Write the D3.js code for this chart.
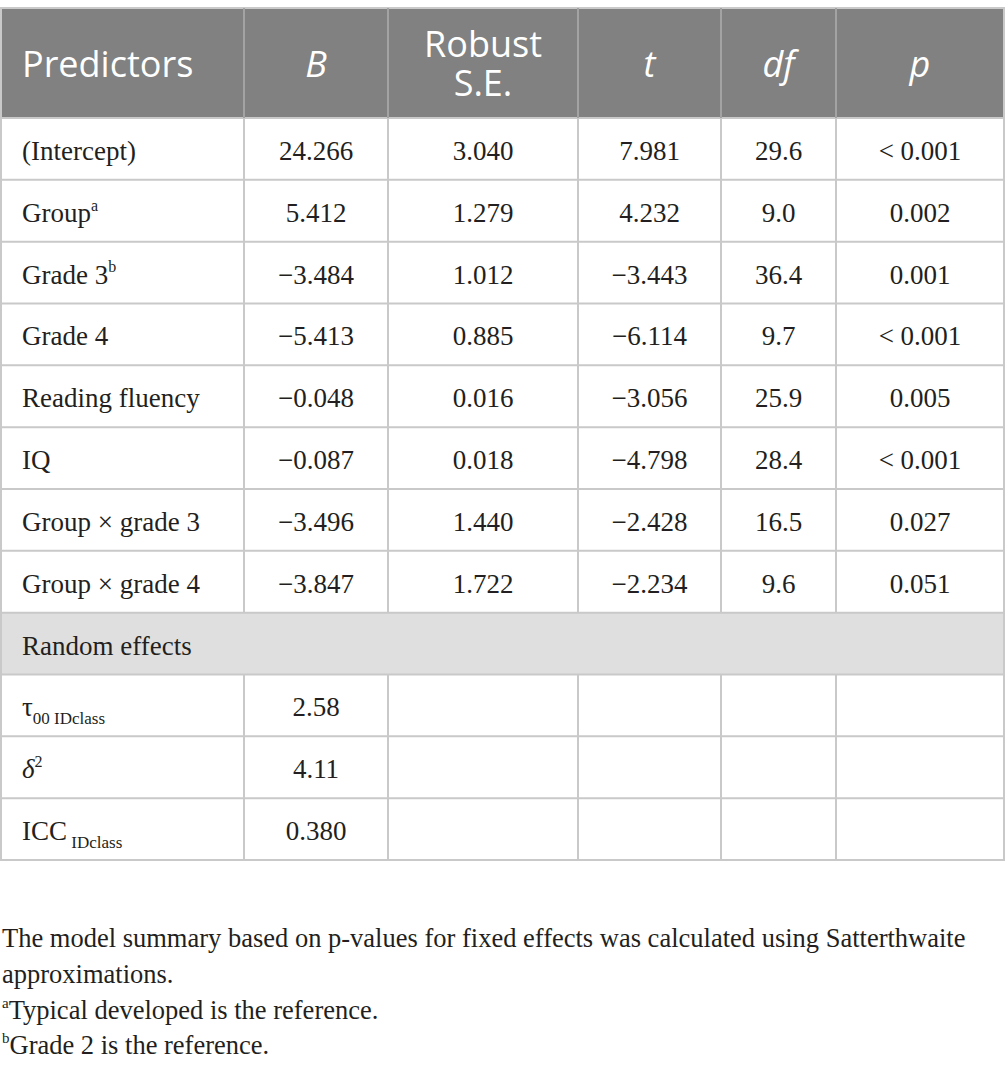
<!DOCTYPE html>
<html>
<head>
<meta charset="utf-8">
<script src="https://cdn.jsdelivr.net/npm/d3@7"></script>
<style>
  body { margin: 0; background: #fff; }
  svg { display: block; }
</style>
</head>
<body>
<svg id="table"></svg>
<script>
// table content, one array per column
var headers = ["Predictors", "B", "Robust S.E.", "t", "df", "p"];
var headerItalic = [false, true, false, true, true, true];
var predictors = ["(Intercept)", "Group", "Grade 3", "Grade 4", "Reading fluency", "IQ",
                  "Group × grade 3", "Group × grade 4", "Random effects", "τ", "δ", "ICC"];
var predictorSup = ["", "a", "b", "", "", "", "", "", "", "", "2", ""];
var predictorSub = ["", "", "", "", "", "", "", "", "", "00 IDclass", "", " IDclass"];
var colB = ["24.266", "5.412", "−3.484", "−5.413", "−0.048", "−0.087", "−3.496", "−3.847", "", "2.58", "4.11", "0.380"];
var colSE = ["3.040", "1.279", "1.012", "0.885", "0.016", "0.018", "1.440", "1.722", "", "", "", ""];
var colT = ["7.981", "4.232", "−3.443", "−6.114", "−3.056", "−4.798", "−2.428", "−2.234", "", "", "", ""];
var colDf = ["29.6", "9.0", "36.4", "9.7", "25.9", "28.4", "16.5", "9.6", "", "", "", ""];
var colP = ["< 0.001", "0.002", "0.001", "< 0.001", "0.005", "< 0.001", "0.027", "0.051", "", "", "", ""];
var footnotes = [
  ["", "The model summary based on p-values for fixed effects was calculated using Satterthwaite"],
  ["", "approximations."],
  ["a", "Typical developed is the reference."],
  ["b", "Grade 2 is the reference."]
];

var w = 1005, h = 1079;
var tableTop = 8, headerBottom = 118, tableBottom = 860;
var colEdges = [0, 244, 388, 578, 721, 836, 1004];
var sectionRow = 8; // "Random effects" spans all columns
var noteBaselines = [947, 983, 1019, 1054];

var serif = "'Liberation Serif', 'Times New Roman', serif";
var sans = "'Open Sans', 'Noto Sans', sans-serif";
var lineColor = "#c9c9c9";

var svg = d3.select("#table").attr("width", w).attr("height", h);

var rowScale = d3.scaleBand()
    .domain(d3.range(predictors.length))
    .range([headerBottom, tableBottom]);

var colScale = d3.scaleOrdinal()
    .domain(d3.range(headers.length))
    .range(d3.range(headers.length).map(function(i) { return colEdges[i]; }));
function colWidth(i) { return colEdges[i + 1] - colEdges[i]; }
function colCenter(i) { return colScale(i) + colWidth(i) / 2; }

// header background
svg.append("rect")
    .attr("x", 0).attr("y", tableTop)
    .attr("width", colEdges[6] + 1).attr("height", headerBottom - tableTop)
    .attr("fill", "#808180");

// section row background
svg.append("rect")
    .attr("x", 0).attr("y", rowScale(sectionRow))
    .attr("width", colEdges[6] + 1).attr("height", rowScale.bandwidth())
    .attr("fill", "#e0dfe0");

// header text (baselines)
headers.forEach(function(hd, i) {
    var lines = hd === "Robust S.E." ? ["Robust", "S.E."] : [hd];
    var baselines = lines.length > 1 ? [57, 96] : [77];
    lines.forEach(function(ln, j) {
        svg.append("text")
            .attr("x", i === 0 ? 22 : colCenter(i))
            .attr("y", baselines[j])
            .attr("text-anchor", i === 0 ? "start" : "middle")
            .attr("font-family", sans)
            .attr("font-size", 36)
            .attr("font-style", headerItalic[i] ? "italic" : "normal")
            .attr("fill", "#fff")
            .text(ln);
    });
});

// body rows
var columns = [colB, colSE, colT, colDf, colP];
predictors.forEach(function(name, r) {
    var cy = rowScale(r) + rowScale.bandwidth() / 2;
    var t = svg.append("text")
        .attr("x", 22)
        .attr("y", cy)
        .attr("dy", "0.41em")
        .attr("font-family", serif)
        .attr("font-size", 27)
        .attr("fill", "#231f20");
    t.append("tspan")
        .attr("font-style", name === "δ" ? "italic" : "normal")
        .text(name);
    if (predictorSup[r]) {
        t.append("tspan")
            .attr("font-size", 16)
            .attr("dy", "-0.7em")
            .text(predictorSup[r]);
    }
    if (predictorSub[r]) {
        t.append("tspan")
            .attr("font-size", 17)
            .attr("dy", "0.45em")
            .text(predictorSub[r]);
    }
    columns.forEach(function(col, c) {
        if (!col[r]) return;
        svg.append("text")
            .attr("x", colCenter(c + 1))
            .attr("y", cy)
            .attr("dy", "0.41em")
            .attr("text-anchor", "middle")
            .attr("font-family", serif)
            .attr("font-size", 27)
            .attr("fill", "#231f20")
            .text(col[r]);
    });
});

// grid lines
var hLines = [tableTop, headerBottom].concat(rowScale.domain().map(function(r) {
    return rowScale(r) + rowScale.bandwidth();
}));
svg.selectAll("line.h").data(hLines).enter().append("line")
    .attr("class", "h")
    .attr("x1", 0).attr("x2", colEdges[6] + 1)
    .attr("y1", function(d) { return d; }).attr("y2", function(d) { return d; })
    .attr("stroke", lineColor).attr("stroke-width", 2);

// vertical lines, skipping the section row
colEdges.forEach(function(x, i) {
    var outer = i === 0 || i === colEdges.length - 1;
    var segs = outer ? [[tableTop, tableBottom]]
        : [[tableTop, headerBottom], [headerBottom, rowScale(sectionRow)],
           [rowScale(sectionRow) + rowScale.bandwidth(), tableBottom]];
    segs.forEach(function(s) {
        svg.append("line")
            .attr("x1", x + (i === 0 ? 1 : 0)).attr("x2", x + (i === 0 ? 1 : 0))
            .attr("y1", s[0]).attr("y2", s[1])
            .attr("stroke", s[0] === tableTop && !outer ? "#a3a3a3" : lineColor)
            .attr("stroke-width", 2);
    });
});

// footnotes
footnotes.forEach(function(fn, i) {
    var t = svg.append("text")
        .attr("x", 2)
        .attr("y", noteBaselines[i])
        .attr("font-family", serif)
        .attr("font-size", 26.5)
        .attr("fill", "#231f20");
    if (fn[0]) {
        t.append("tspan").attr("font-size", 15).attr("dy", "-0.75em").text(fn[0]);
        t.append("tspan").attr("dy", "0.42em").text(fn[1]);
    } else {
        t.text(fn[1]);
    }
});
</script>
</body>
</html>
